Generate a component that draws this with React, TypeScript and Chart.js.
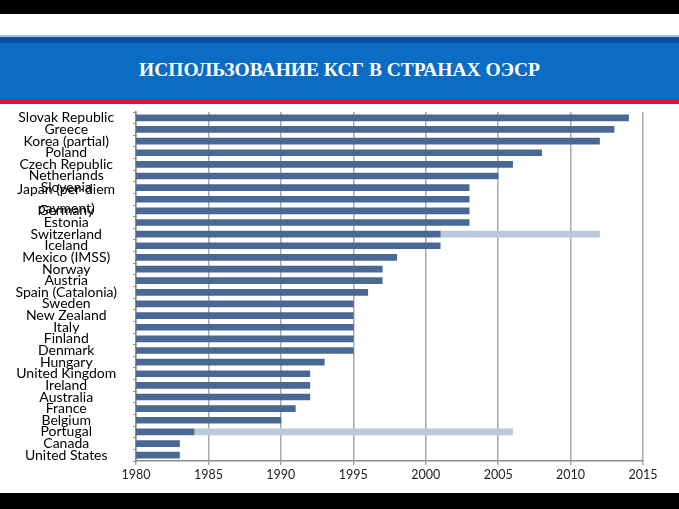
import React, { useEffect, useRef } from "react";
import { Chart, registerables } from "chart.js";

Chart.register(...registerables);

const countries: (string | string[])[] = [
  "Slovak Republic", "Greece", "Korea (partial)", "Poland", "Czech Republic", "Netherlands",
  "Slovenia", ["Japan (per-diem", "payment)"], "Germany", "Estonia", "Switzerland", "Iceland",
  "Mexico (IMSS)", "Norway", "Austria", "Spain (Catalonia)", "Sweden", "New Zealand", "Italy",
  "Finland", "Denmark", "Hungary", "United Kingdom", "Ireland", "Australia", "France",
  "Belgium", "Portugal", "Canada", "United States",
];

const introductionYear: number[] = [
  2014, 2013, 2012, 2008, 2006, 2005,
  2003, 2003, 2003, 2003, 2001, 2001,
  1998, 1997, 1997, 1996, 1995, 1995, 1995,
  1995, 1995, 1993, 1992, 1992, 1992, 1991,
  1990, 1984, 1983, 1983,
];

const extensionRange: ([number, number] | null)[] = countries.map(() => null);
extensionRange[10] = [2001, 2012];
extensionRange[27] = [1984, 2006];

const yearTicks: number[] = [1980, 1985, 1990, 1995, 2000, 2005, 2010, 2015];
const title = "ИСПОЛЬЗОВАНИЕ КСГ В СТРАНАХ ОЭСР";

export default function App() {
  const ref = useRef<HTMLCanvasElement | null>(null);

  useEffect(() => {
    document.body.style.margin = "0";
    const ctx = ref.current!.getContext("2d")!;
    const chart = new Chart(ctx, {
      type: "bar",
      data: {
        labels: countries as any,
        datasets: [
          {
            label: "extension",
            data: extensionRange as any,
            backgroundColor: "#b9c8db",
            barThickness: 6,
            grouped: false,
            order: 2,
          } as any,
          {
            label: "year",
            data: introductionYear,
            backgroundColor: "#4a6894",
            borderWidth: 0,
            barThickness: 6,
            grouped: false,
            order: 1,
          } as any,
        ],
      },
      options: {
        indexAxis: "y",
        animation: false,
        responsive: false,
        maintainAspectRatio: false,
        layout: { padding: { top: 7, right: 36, left: 0, bottom: 0 } },
        plugins: { legend: { display: false }, tooltip: { enabled: false } },
        scales: {
          x: {
            type: "linear",
            min: 1980,
            max: 2015,
            afterBuildTicks: (axis: any) => {
              axis.ticks = yearTicks.map((v) => ({ value: v }));
            },
            afterFit: (axis: any) => {
              axis.height = 32;
            },
            ticks: {
              color: "#222",
              font: { family: "Lato", size: 12.5 },
              padding: 2,
              callback: (v: any) => String(v),
            },
            grid: {
              color: "#a8a8a8",
              lineWidth: 1.5,
              tickLength: 4,
              drawTicks: true,
            },
            border: { color: "#8c8c8c", width: 1.5 },
          },
          y: {
            type: "category",
            afterFit: (axis: any) => {
              axis.width = 136;
              axis.paddingTop = 0;
              axis.paddingBottom = 0;
            },
            ticks: {
              autoSkip: false,
              color: "#000",
              crossAlign: "center",
              font: { family: "Lato", size: 14, lineHeight: 1.35 },
              padding: 16,
            },
            grid: {
              display: true,
              drawOnChartArea: false,
              offset: true,
              tickLength: 3,
              color: "#8c8c8c",
            },
            border: { color: "#8c8c8c", width: 1.5 },
          },
        },
      },
    });
    return () => chart.destroy();
  }, []);

  return (
    <div style={{ position: "fixed", left: 0, top: 0, width: 679, height: 509, background: "#fff", overflow: "hidden" }}>
      <div style={{ position: "absolute", left: 0, top: 0, width: 679, height: 14, background: "#000" }} />
      <div style={{ position: "absolute", left: 0, top: 35, width: 679, height: 2, background: "#9cc3ec" }} />
      <div style={{ position: "absolute", left: 0, top: 37, width: 679, height: 6, background: "#0c4fa0" }} />
      <div style={{ position: "absolute", left: 0, top: 43, width: 679, height: 56, background: "#0a6cc2" }} />
      <div style={{ position: "absolute", left: 0, top: 99, width: 679, height: 5, background: "#e3161b" }} />
      <div
        style={{
          position: "absolute", left: 0, top: 57, width: 679, height: 26,
          textAlign: "center", color: "#fff", fontFamily: "'Liberation Serif', serif",
          fontWeight: "bold", fontSize: 19.5, lineHeight: "26px",
        }}
      >
        {title}
      </div>
      <canvas ref={ref} width={679} height={388} style={{ position: "absolute", left: 0, top: 105 }} />
      <div style={{ position: "absolute", left: 0, top: 493, width: 679, height: 16, background: "#000" }} />
    </div>
  );
}
